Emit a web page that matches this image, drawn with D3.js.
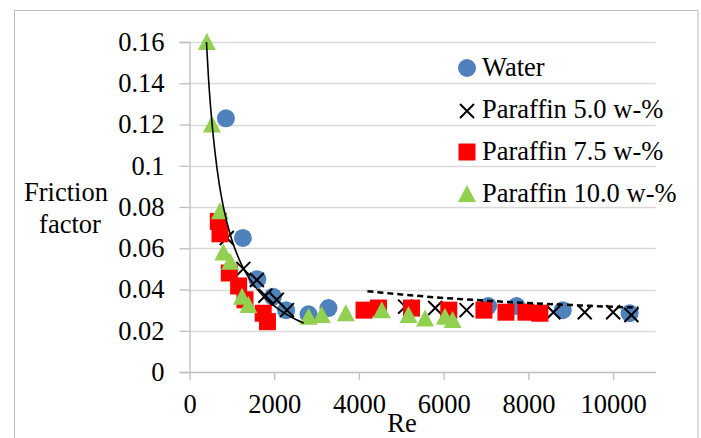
<!DOCTYPE html>
<html><head><meta charset="utf-8">
<script src="https://cdn.jsdelivr.net/npm/d3@7"></script>
<style>body{margin:0;background:#fff}svg{display:block}
svg text{font-family:"Liberation Serif","Times New Roman",Tinos,"Noto Serif","DejaVu Serif",serif !important;fill:#000}</style>
</head><body>
<svg id="c" width="701" height="438"></svg>
<script>
// ---- data ----
const xTicks = [0, 2000, 4000, 6000, 8000, 10000];
const yTicks = [0, 0.02, 0.04, 0.06, 0.08, 0.1, 0.12, 0.14, 0.16];
const yTickLabels = ["0", "0.02", "0.04", "0.06", "0.08", "0.1", "0.12", "0.14", "0.16"];
const seriesNames = ["Water", "Paraffin 5.0 w-%", "Paraffin 7.5 w-%", "Paraffin 10.0 w-%"];

const waterRe = [860, 1260, 1600, 1970, 2280, 2810, 3280, 7050, 7720, 8810, 10390];
const waterF  = [0.123, 0.065, 0.045, 0.0365, 0.030, 0.028, 0.031, 0.032, 0.032, 0.030, 0.0285];

const p5Re = [880, 1270, 1590, 1790, 2060, 2300, 5090, 5800, 6540, 8590, 9330, 10000, 10430];
const p5F  = [0.065, 0.050, 0.0446, 0.037, 0.035, 0.030, 0.0317, 0.031, 0.030, 0.029, 0.029, 0.029, 0.0276];

const p75Re = [680, 720, 940, 1160, 1310, 1740, 1840, 4120, 4460, 5240, 6120, 6950, 7470, 7940, 8270];
const p75F  = [0.073, 0.067, 0.048, 0.0417, 0.035, 0.0285, 0.0244, 0.030, 0.031, 0.031, 0.030, 0.030, 0.029, 0.029, 0.0285];

const p10Re = [410, 530, 720, 800, 960, 1240, 1390, 2810, 3120, 3690, 4540, 5170, 5560, 6030, 6210];
const p10F  = [0.16, 0.12, 0.078, 0.058, 0.0535, 0.0365, 0.0325, 0.0268, 0.0276, 0.0285, 0.030, 0.0276, 0.026, 0.0268, 0.0252];

// laminar curve (solid) and turbulent curve (dashed)
const lamRe = [400, 450, 500, 600, 700, 800, 1000, 1200, 1500, 1800, 2100, 2400, 2700];
const lamF  = [0.16, 0.142, 0.128, 0.107, 0.0914, 0.08, 0.064, 0.0533, 0.0427, 0.0356, 0.0305, 0.0267, 0.0237];
const turbRe = [4200, 5000, 6000, 7000, 8000, 9000, 10000, 10600];
const turbF  = [0.0392, 0.0376, 0.0359, 0.0346, 0.0334, 0.0325, 0.0316, 0.0312];

// ---- layout ----
const svg = d3.select("#c");
const x = d3.scaleLinear().domain([0, 11000]).range([189.5, 655.5]);
const y = d3.scaleLinear().domain([0, 0.16]).range([372, 42]);
const FS = 26.5;
const FF = '"Liberation Serif","Times New Roman",Tinos,"Noto Serif","DejaVu Serif",serif';

svg.append("rect").attr("x", 14.5).attr("y", 10.5).attr("width", 683.5).attr("height", 440)
  .attr("fill", "#fff").attr("stroke", "#BFBFBF").attr("stroke-width", 1);

// gridlines
svg.append("g").selectAll("line").data(yTicks.slice(1)).join("line")
  .attr("x1", x(0)).attr("x2", x(11000))
  .attr("y1", d => Math.round(y(d)) + 0.5).attr("y2", d => Math.round(y(d)) + 0.5)
  .attr("stroke", "#D9D9D9").attr("stroke-width", 1.3);

// y axis
const yAxis = d3.axisLeft(y).tickValues(yTicks).tickSize(10).tickFormat((d, i) => yTickLabels[i]).tickPadding(15);
const gy = svg.append("g").attr("transform", `translate(${x(0)},0)`).call(yAxis).attr("font-family", FF);
gy.select(".domain").attr("stroke", "#BFBFBF").attr("stroke-width", 1.3);
gy.selectAll(".tick line").attr("stroke", "#BFBFBF").attr("stroke-width", 1.3);
gy.selectAll("text").attr("font-family", FF).style("font-size", FS + "px").attr("fill", "#000");

// x axis
const xAxis = d3.axisBottom(x).tickValues(xTicks).tickSize(8).tickFormat(d3.format("d")).tickSizeOuter(0).tickPadding(14);
const gx = svg.append("g").attr("transform", `translate(0,${y(0)})`).call(xAxis).attr("font-family", FF);
gx.select(".domain").attr("stroke", "#BFBFBF").attr("stroke-width", 1.3);
gx.selectAll(".tick line").attr("stroke", "#BFBFBF").attr("stroke-width", 1.3);
gx.selectAll("text").attr("font-family", FF).style("font-size", FS + "px").attr("fill", "#000");

// axis titles
svg.append("text").attr("x", 402).attr("y", 432).attr("text-anchor", "middle").attr("font-family", FF).style("font-size", FS + "px").text("Re");
svg.append("text").attr("x", 66).attr("y", 201).attr("text-anchor", "middle").attr("font-family", FF).style("font-size", FS + "px").text("Friction");
svg.append("text").attr("x", 70).attr("y", 233).attr("text-anchor", "middle").attr("font-family", FF).style("font-size", FS + "px").text("factor");

// marker painters
const blue = "#4F81BD", red = "#FF0000", green = "#92D050";
function circle(g, cx, cy) { g.append("circle").attr("cx", cx).attr("cy", cy).attr("r", 9).attr("fill", blue); }
function cross(g, cx, cy) {
  const s = 7;
  g.append("path").attr("d", `M${cx - s},${cy - s}L${cx + s},${cy + s}M${cx - s},${cy + s}L${cx + s},${cy - s}`)
    .attr("stroke", "#000").attr("stroke-width", 2).attr("fill", "none");
}
function square(g, cx, cy) { g.append("rect").attr("x", cx - 8.5).attr("y", cy - 8.5).attr("width", 17).attr("height", 17).attr("fill", red); }
function tri(g, cx, cy) {
  g.append("path").attr("d", `M${cx},${cy - 9}L${cx + 9},${cy + 8}L${cx - 9},${cy + 8}Z`).attr("fill", green);
}

const marks = svg.append("g");
const sets = [[waterRe, waterF, circle], [p5Re, p5F, cross], [p75Re, p75F, square], [p10Re, p10F, tri]];
sets.forEach(([rx, fy, fn]) => rx.forEach((v, i) => fn(marks, x(v), y(fy[i]))));

// curves
const lineGen = d3.line().x(d => x(d[0])).y(d => y(d[1])).curve(d3.curveMonotoneX);
svg.append("path").attr("d", lineGen(lamRe.map((v, i) => [v, lamF[i]])))
  .attr("fill", "none").attr("stroke", "#000").attr("stroke-width", 1.6);
svg.append("path").attr("d", lineGen(turbRe.map((v, i) => [v, turbF[i]])))
  .attr("fill", "none").attr("stroke", "#000").attr("stroke-width", 2.5).attr("stroke-dasharray", "6,4");

// legend
const lg = svg.append("g");
const painters = [circle, cross, square, tri];
const rowY = [68, 111, 152, 194];
const baseY = [76, 118, 160, 202];
seriesNames.forEach((n, i) => {
  painters[i](lg, 467, rowY[i]);
  lg.append("text").attr("x", 482).attr("y", baseY[i]).attr("font-family", FF).style("font-size", FS + "px").text(n);
});
</script>
</body></html>
